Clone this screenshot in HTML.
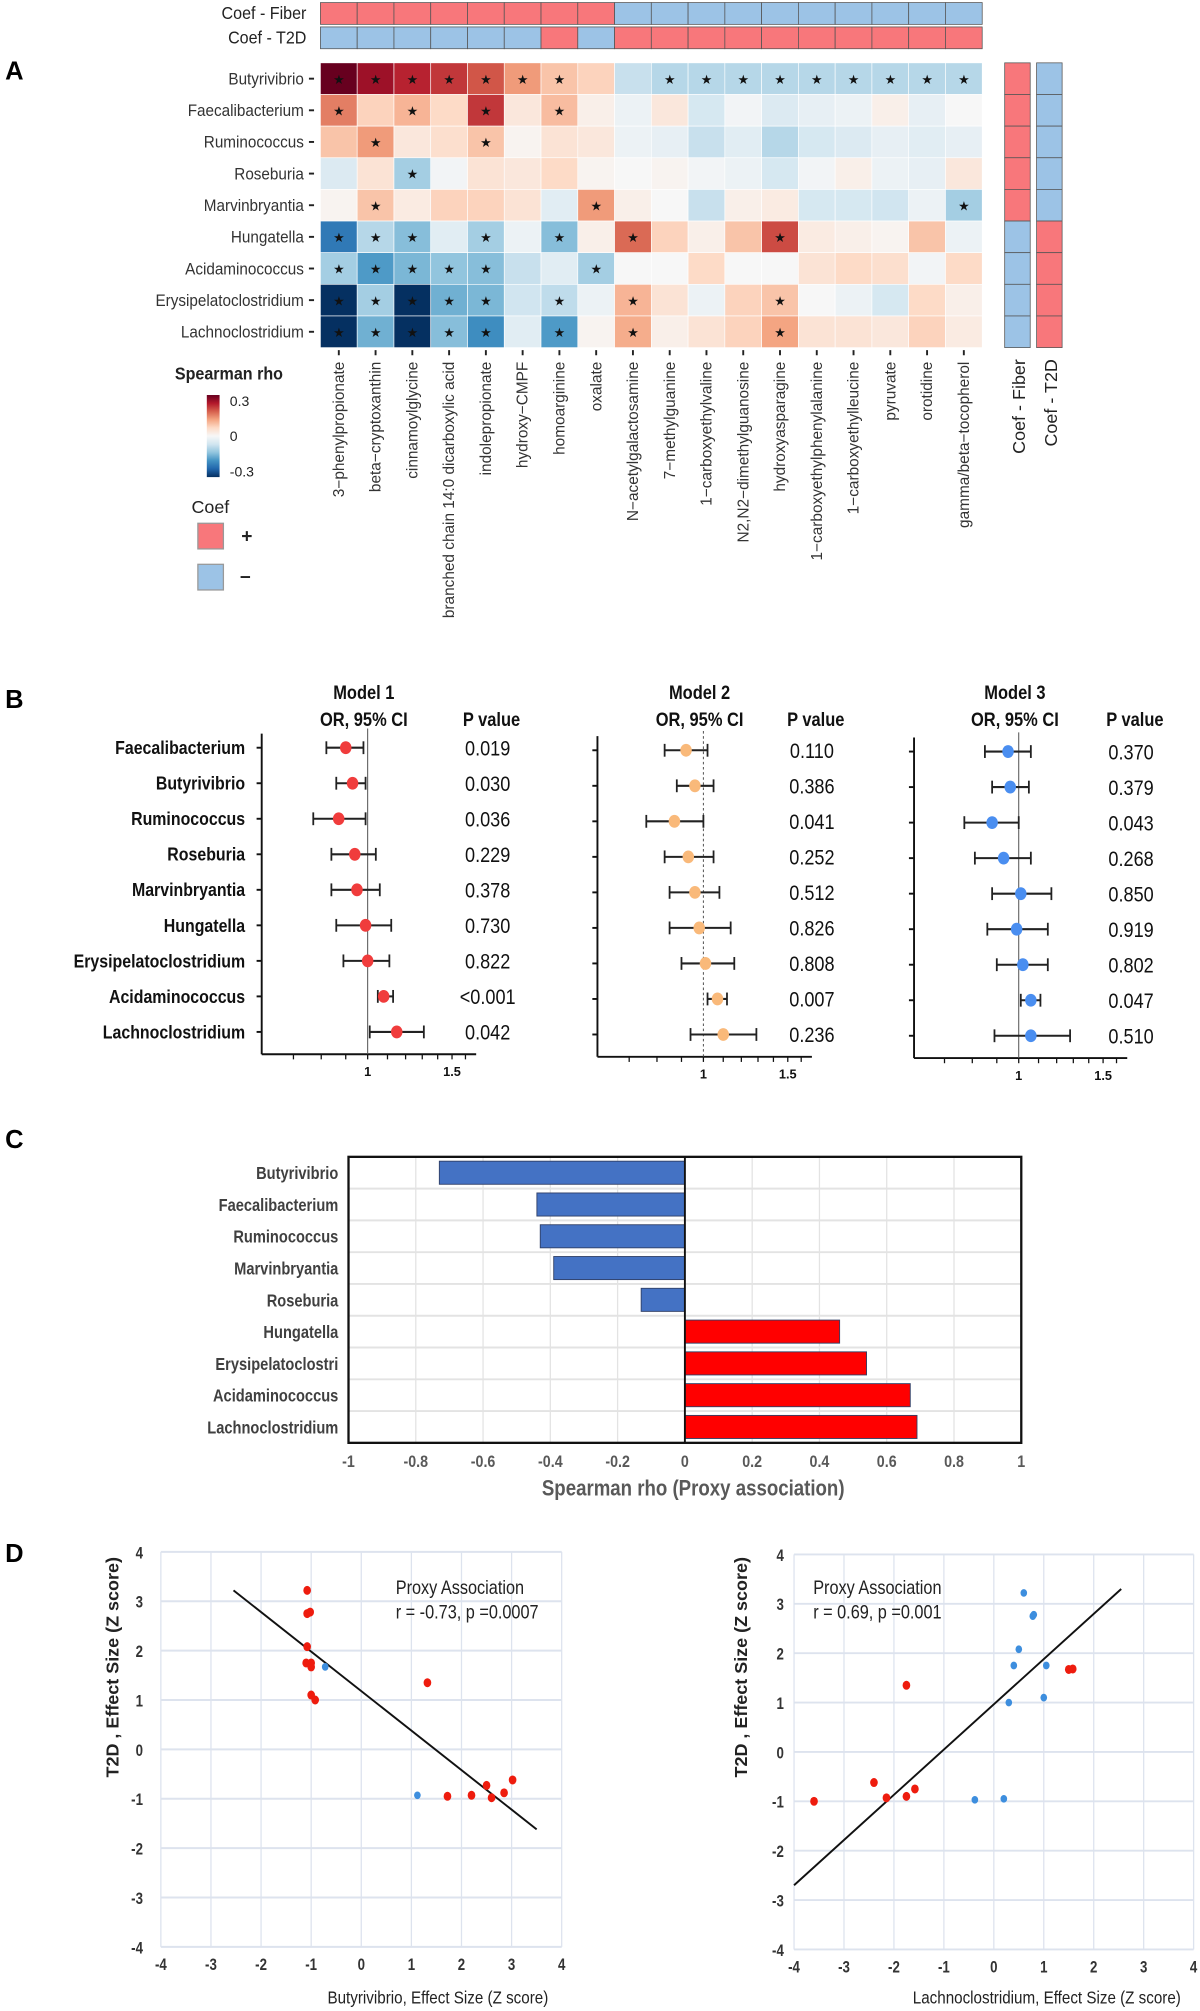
<!DOCTYPE html>
<html><head><meta charset="utf-8">
<style>
html,body{margin:0;padding:0;background:#fff;}
svg{display:block;}
text{font-family:"Liberation Sans",sans-serif;}
</style></head>
<body>
<svg id="fig" xmlns="http://www.w3.org/2000/svg" width="1200" height="2011" viewBox="0 0 940 1568" preserveAspectRatio="none"></svg>
<script>
// ===== Panel A data =====
const hmRows = ["Butyrivibrio","Faecalibacterium","Ruminococcus","Roseburia","Marvinbryantia","Hungatella","Acidaminococcus","Erysipelatoclostridium","Lachnoclostridium"];
const hmCols = ["3\u2212phenylpropionate","beta\u2212cryptoxanthin","cinnamoylglycine","branched chain 14:0 dicarboxylic acid","indolepropionate","hydroxy\u2212CMPF","homoarginine","oxalate","N\u2212acetylgalactosamine","7\u2212methylguanine","1\u2212carboxyethylvaline","N2,N2\u2212dimethylguanosine","hydroxyasparagine","1\u2212carboxyethylphenylalanine","1\u2212carboxyethylleucine","pyruvate","orotidine","gamma/beta\u2212tocopherol"];
const hmVals = [
 [0.35,0.30,0.27,0.25,0.22,0.15,0.10,0.08,-0.08,-0.10,-0.10,-0.10,-0.10,-0.10,-0.10,-0.10,-0.10,-0.10],
 [0.18,0.08,0.12,0.07,0.25,0.04,0.11,0.02,-0.02,0.04,-0.06,-0.01,-0.05,-0.03,-0.02,0.02,-0.03,0.00],
 [0.10,0.15,0.04,0.06,0.10,0.01,0.05,0.04,-0.02,-0.03,-0.08,-0.04,-0.10,-0.06,-0.05,-0.03,-0.04,-0.03],
 [-0.05,0.05,-0.12,-0.01,0.05,0.04,0.07,0.01,0.00,0.01,-0.01,-0.02,-0.06,-0.01,0.02,-0.02,-0.03,0.04],
 [0.01,0.10,0.03,0.08,0.08,0.05,-0.04,0.15,0.02,0.00,-0.08,0.02,0.03,-0.06,-0.06,-0.07,-0.02,-0.12],
 [-0.25,-0.10,-0.15,-0.04,-0.12,-0.02,-0.15,0.02,0.20,0.08,0.02,0.10,0.23,0.03,0.02,0.01,0.10,-0.02],
 [-0.12,-0.20,-0.16,-0.14,-0.15,-0.08,-0.04,-0.12,0.00,0.00,0.07,0.00,0.00,0.05,0.07,0.06,-0.01,0.07],
 [-0.35,-0.12,-0.35,-0.17,-0.16,-0.07,-0.09,-0.02,0.12,0.05,-0.02,0.08,0.10,0.00,-0.02,-0.06,0.07,0.02],
 [-0.35,-0.17,-0.35,-0.15,-0.22,-0.04,-0.20,0.01,0.13,0.02,0.05,0.08,0.14,0.05,0.05,0.04,0.08,0.03]
];
const hmStars = [
 [1,1,1,1,1,1,1,0,0,1,1,1,1,1,1,1,1,1],
 [1,0,1,0,1,0,1,0,0,0,0,0,0,0,0,0,0,0],
 [0,1,0,0,1,0,0,0,0,0,0,0,0,0,0,0,0,0],
 [0,0,1,0,0,0,0,0,0,0,0,0,0,0,0,0,0,0],
 [0,1,0,0,0,0,0,1,0,0,0,0,0,0,0,0,0,1],
 [1,1,1,0,1,0,1,0,1,0,0,0,1,0,0,0,0,0],
 [1,1,1,1,1,0,0,1,0,0,0,0,0,0,0,0,0,0],
 [1,1,1,1,1,0,1,0,1,0,0,0,1,0,0,0,0,0],
 [1,1,1,1,1,0,1,0,1,0,0,0,1,0,0,0,0,0]
];
const colCoefFiber = [1,1,1,1,1,1,1,1,-1,-1,-1,-1,-1,-1,-1,-1,-1,-1];
const colCoefT2D   = [-1,-1,-1,-1,-1,-1,1,-1,1,1,1,1,1,1,1,1,1,1];
const rowCoefFiber = [1,1,1,1,1,-1,-1,-1,-1];
const rowCoefT2D   = [-1,-1,-1,-1,-1,1,1,1,1];
const legendTicks = [0.3,0,-0.3];

// ===== Panel B data =====
const fpTaxa = ["Faecalibacterium","Butyrivibrio","Ruminococcus","Roseburia","Marvinbryantia","Hungatella","Erysipelatoclostridium","Acidaminococcus","Lachnoclostridium"];
const m1Or = [0.90,0.93,0.87,0.94,0.95,0.99,1.00,1.08,1.15];
const m1Lo = [0.82,0.86,0.77,0.84,0.84,0.86,0.89,1.05,1.01];
const m1Hi = [0.98,0.99,0.99,1.04,1.06,1.12,1.11,1.13,1.31];
const m1P  = ["0.019","0.030","0.036","0.229","0.378","0.730","0.822","<0.001","0.042"];
const m2Or = [0.92,0.96,0.87,0.93,0.96,0.98,1.01,1.07,1.10];
const m2Lo = [0.83,0.88,0.76,0.83,0.85,0.85,0.90,1.02,0.94];
const m2Hi = [1.02,1.05,1.00,1.05,1.08,1.14,1.16,1.12,1.29];
const m2P  = ["0.110","0.386","0.041","0.252","0.512","0.826","0.808","0.007","0.236"];
const m3Or = [0.95,0.96,0.88,0.93,1.01,0.99,1.02,1.06,1.06];
const m3Lo = [0.85,0.88,0.77,0.81,0.88,0.86,0.90,1.01,0.89];
const m3Hi = [1.06,1.05,1.00,1.06,1.17,1.15,1.15,1.11,1.28];
const m3P  = ["0.370","0.379","0.043","0.268","0.850","0.919","0.802","0.047","0.510"];
const fpTickLabels = [1,1.5];

// ===== Panel C data =====
const barTaxa = ["Butyrivibrio","Faecalibacterium","Ruminococcus","Marvinbryantia","Roseburia","Hungatella","Erysipelatoclostri","Acidaminococcus","Lachnoclostridium"];
const barRho = [-0.73,-0.44,-0.43,-0.39,-0.13,0.46,0.54,0.67,0.69];
const barTicks = [-1,-0.8,-0.6,-0.4,-0.2,0,0.2,0.4,0.6,0.8,1];

// ===== Panel D data =====
const dTicks = [-4,-3,-2,-1,0,1,2,3,4];
const d1RedX = [-1.08,-1.08,-1.02,-1.08,-1.10,-1.00,-1.00,-1.00,-0.92,1.32,1.72,2.20,2.50,2.60,2.85,3.02];
const d1RedY = [3.22,2.75,2.78,2.08,1.75,1.75,1.67,1.10,1.00,1.35,-0.95,-0.93,-0.73,-0.98,-0.88,-0.62];
const d1BlueX = [-0.72,1.12];
const d1BlueY = [1.67,-0.93];
const d1LineX = [-2.55,3.5];
const d1LineY = [3.22,-1.62];
const d2RedX = [-3.60,-2.40,-2.15,-1.75,-1.58,-1.75,1.50,1.58];
const d2RedY = [-1.00,-0.62,-0.93,-0.90,-0.75,1.35,1.67,1.68];
const d2BlueX = [0.60,0.80,0.78,0.50,0.40,1.05,0.30,1.00,-0.38,0.20];
const d2BlueY = [3.22,2.78,2.75,2.08,1.75,1.75,1.00,1.10,-0.97,-0.95];
const d2LineX = [-4.0,2.55];
const d2LineY = [-2.7,3.3];

// ===== helpers =====
const NS = "http://www.w3.org/2000/svg";
const svg = document.getElementById('fig');
function mk(tag, attrs, parent){
  const e = document.createElementNS(NS, tag);
  for (const k in attrs) e.setAttribute(k, attrs[k]);
  (parent || svg).appendChild(e);
  return e;
}
function tx(str, attrs, parent){ const e = mk('text', attrs, parent); e.textContent = str; return e; }
// condensed text: horizontally scaled around anchor point
function ctx(str, x, y, s, attrs, parent){
  const a = Object.assign({}, attrs, {x:0, y:0, transform:'translate(' + x + ',' + y + ') scale(' + s + ',1)'});
  return tx(str, a, parent);
}
function grp(name){
  const g = mk('g', {});
  
  
  return g;
}
const RED = '#f8777b', BLUE = '#9cc3e6';
const stops = ['#053061','#2166ac','#4393c3','#92c5de','#d1e5f0','#f7f7f7','#fddbc7','#f4a582','#d6604d','#b2182b','#67001f'];
function hex2rgb(h){ return [parseInt(h.substr(1,2),16),parseInt(h.substr(3,2),16),parseInt(h.substr(5,2),16)]; }
function rdbu(v){
  let t = (v + 0.35) / 0.7; t = Math.max(0, Math.min(1, t));
  const p = t * (stops.length - 1); const i = Math.min(Math.floor(p), stops.length - 2); const f = p - i;
  const a = hex2rgb(stops[i]), b = hex2rgb(stops[i+1]);
  return 'rgb(' + a.map((x,k)=>Math.round(x + (b[k]-x)*f)).join(',') + ')';
}

// ===== Panel A =====
(function(){
  const g = grp('panel-a');
  const lab = tx('A', {x:4, y:62, 'font-size':20, 'font-weight':'bold'}, g);
  
  
  const x0 = 251, cw = 28.8, y0 = 49, ch = 24.67;
  const xs = i => x0 + i * cw, ys = j => y0 + j * ch;
  ctx('Coef - Fiber', 240, 15, 0.9, {'font-size':14, 'text-anchor':'end', fill:'#222'}, g);
  ctx('Coef -  T2D', 240, 34, 0.9, {'font-size':14, 'text-anchor':'end', fill:'#222'}, g);
  colCoefFiber.forEach((c,i)=>{
    const r = mk('rect', {x:xs(i), y:2, width:cw, height:17, fill:c>0?RED:BLUE, stroke:'#555', 'stroke-width':0.6}, g);
    
    
  });
  colCoefT2D.forEach((c,i)=>{
    const r = mk('rect', {x:xs(i), y:21, width:cw, height:17, fill:c>0?RED:BLUE, stroke:'#555', 'stroke-width':0.6}, g);
    
    
  });
  hmVals.forEach((row,j)=>{
    row.forEach((v,i)=>{
      const r = mk('rect', {x:xs(i), y:ys(j), width:cw, height:ch, fill:rdbu(v), stroke:'#fff', 'stroke-width':0.5}, g);
      
      
      if (hmStars[j][i]) {
        const s = tx('\u2605', {x:xs(i)+cw/2, y:ys(j)+ch/2+4, 'font-size':10, 'text-anchor':'middle', fill:'#111', 'font-family':'DejaVu Sans'}, g);
        
        
      }
    });
  });
  hmRows.forEach((n,j)=>{
    const t = ctx(n, 238, ys(j)+ch/2+4.5, 0.92, {'font-size':13, 'text-anchor':'end', fill:'#333'}, g);
    
    
    mk('line', {x1:242, x2:246, y1:ys(j)+ch/2, y2:ys(j)+ch/2, stroke:'#222', 'stroke-width':1.5}, g);
  });
  hmCols.forEach((n,i)=>{
    const cx = xs(i)+cw/2;
    mk('line', {x1:cx, x2:cx, y1:273, y2:277, stroke:'#222', 'stroke-width':1.5}, g);
    const t = tx(n, {x:0, y:0, 'font-size':12, 'text-anchor':'end', fill:'#333', transform:'translate(' + (cx+4) + ',282) rotate(-90)'}, g);
    
    
  });
  rowCoefFiber.forEach((c,j)=>{
    const r = mk('rect', {x:787, y:ys(j), width:20, height:ch, fill:c>0?RED:BLUE, stroke:'#555', 'stroke-width':0.6}, g);
    
    
  });
  rowCoefT2D.forEach((c,j)=>{
    const r = mk('rect', {x:812, y:ys(j), width:20, height:ch, fill:c>0?RED:BLUE, stroke:'#555', 'stroke-width':0.6}, g);
    
    
  });
  tx('Coef  -  Fiber', {x:0, y:0, 'font-size':14, 'text-anchor':'end', fill:'#222', transform:'translate(803,280) rotate(-90)'}, g);
  tx('Coef  -  T2D', {x:0, y:0, 'font-size':14, 'text-anchor':'end', fill:'#222', transform:'translate(828,280) rotate(-90)'}, g);
  const lg = grp('heatmap-legend');
  ctx('Spearman rho', 137, 296, 0.9, {'font-size':14, 'font-weight':'bold', fill:'#222'}, lg);
  const defs = mk('defs', {}, lg);
  const grad = mk('linearGradient', {id:'rdbu', x1:0, y1:1, x2:0, y2:0}, defs);
  stops.forEach((c,i)=>mk('stop', {offset:(i/(stops.length-1)), 'stop-color':c}, grad));
  const cb = mk('rect', {x:162, y:308, width:10, height:64, fill:'url(#rdbu)'}, lg);
  
  
  legendTicks.forEach(v=>{
    const y = 340 - v / 0.35 * 32;
    tx(String(v), {x:180, y:y+4, 'font-size':11, fill:'#222'}, lg);
  });
  tx('Coef', {x:150, y:400, 'font-size':14, fill:'#222'}, lg);
  mk('rect', {x:155, y:408, width:20, height:20, fill:RED, stroke:'#999'}, lg);
  tx('+', {x:189, y:423, 'font-size':15, 'font-weight':'bold', fill:'#222'}, lg);
  mk('rect', {x:155, y:440, width:20, height:20, fill:BLUE, stroke:'#999'}, lg);
  tx('\u2013', {x:188, y:454, 'font-size':15, 'font-weight':'bold', fill:'#222'}, lg);
})();

// ===== Panel B =====
(function(){
  const g = grp('panel-b');
  tx('B', {x:4, y:552, 'font-size':20, 'font-weight':'bold'}, g);
  const rowY = j => 583 + j * 27.7;
  fpTaxa.forEach((n,j)=>{
    const t = ctx(n, 192, rowY(j)+5, 0.86, {'font-size':14.5, 'font-weight':'bold', 'text-anchor':'end', fill:'#111'}, g);
    
    
  });
  const panels = [
    {name:'model-1', title:'Model 1', ax:205, ref:288, pX:382, dy:0, col:'#f03c3c', or:m1Or, lo:m1Lo, hi:m1Hi, p:m1P, dash:false},
    {name:'model-2', title:'Model 2', ax:468, ref:551, pX:636, dy:2, col:'#f9b97a', or:m2Or, lo:m2Lo, hi:m2Hi, p:m2P, dash:true},
    {name:'model-3', title:'Model 3', ax:716, ref:798, pX:886, dy:3, col:'#4a8ef0', or:m3Or, lo:m3Lo, hi:m3Hi, p:m3P, dash:false}
  ];
  const k = 163;
  panels.forEach(P=>{
    const pg = grp('forest-' + P.name);
    const sx = v => P.ref + Math.log(v) * k;
    ctx(P.title, P.ref-3, 545, 0.86, {'font-size':15, 'font-weight':'bold', 'text-anchor':'middle', fill:'#111'}, pg);
    ctx('OR, 95% CI', P.ref-3, 566, 0.86, {'font-size':15, 'font-weight':'bold', 'text-anchor':'middle', fill:'#111'}, pg);
    ctx('P value', P.pX+3, 566, 0.86, {'font-size':15, 'font-weight':'bold', 'text-anchor':'middle', fill:'#111'}, pg);
    const yb = 822 + P.dy;
    mk('line', {x1:P.ax, x2:P.ax, y1:572+P.dy, y2:yb, stroke:'#111', 'stroke-width':1.5}, pg);
    mk('line', {x1:P.ax, x2:P.ref+85, y1:yb, y2:yb, stroke:'#111', 'stroke-width':1.5}, pg);
    const rl = mk('line', {x1:P.ref, x2:P.ref, y1:568+P.dy, y2:yb, stroke:'#555', 'stroke-width':0.8}, pg);
    if (P.dash) rl.setAttribute('stroke-dasharray', '2,2');
    
    
    [0.6,0.7,0.8,0.9,1,1.1,1.2,1.3,1.4,1.5,1.6].forEach(v=>{
      const x = sx(v); if (x < P.ax || x > P.ref+85) return;
      mk('line', {x1:x, x2:x, y1:yb, y2:yb+4, stroke:'#111', 'stroke-width':1}, pg);
    });
    fpTickLabels.forEach(v=>{
      tx(String(v), {x:sx(v), y:yb+17, 'font-size':10, 'font-weight':'bold', 'text-anchor':'middle', fill:'#111'}, pg);
    });
    P.or.forEach((v,j)=>{
      const y = rowY(j) + P.dy;
      mk('line', {x1:P.ax-4, x2:P.ax, y1:y, y2:y, stroke:'#111', 'stroke-width':1.5}, pg);
      const ci = mk('line', {x1:sx(P.lo[j]), x2:sx(P.hi[j]), y1:y, y2:y, stroke:'#222', 'stroke-width':1.6}, pg);
      
      
      mk('line', {x1:sx(P.lo[j]), x2:sx(P.lo[j]), y1:y-5, y2:y+5, stroke:'#222', 'stroke-width':1.4}, pg);
      mk('line', {x1:sx(P.hi[j]), x2:sx(P.hi[j]), y1:y-5, y2:y+5, stroke:'#222', 'stroke-width':1.4}, pg);
      const d = mk('ellipse', {cx:sx(v), cy:y, rx:4.5, ry:5, fill:P.col}, pg);
      
      
      const pt = ctx(P.p[j], P.pX, y+6, 0.86, {'font-size':16.5, 'text-anchor':'middle', fill:'#111'}, pg);
      
      
    });
  });
})();

// ===== Panel C =====
(function(){
  const g = grp('panel-c');
  tx('C', {x:4, y:895, 'font-size':20, 'font-weight':'bold'}, g);
  const L = 273, R = 800, T = 902, B = 1125;
  const sx = v => L + (v + 1) / 2 * (R - L);
  const rh = (B - T) / barTaxa.length;
  barTicks.forEach(v=>{
    mk('line', {x1:sx(v), x2:sx(v), y1:T, y2:B, stroke:'#e3e3e3', 'stroke-width':1}, g);
    const t = ctx(String(v), sx(v), 1144, 0.86, {'font-size':13, 'font-weight':'bold', 'text-anchor':'middle', fill:'#595959'}, g);
    
    
  });
  for (let j=1; j<barTaxa.length; j++) mk('line', {x1:L, x2:R, y1:T+j*rh, y2:T+j*rh, stroke:'#e3e3e3', 'stroke-width':1.5}, g);
  barRho.forEach((v,j)=>{
    const yc = T + (j+0.5)*rh;
    const x1 = Math.min(sx(0), sx(v)), w = Math.abs(sx(v) - sx(0));
    const b = mk('rect', {x:x1, y:yc-9, width:w, height:18, fill:v<0?'#4472c4':'#ff0000', stroke:'#2f3f66', 'stroke-width':0.7}, g);
    
    
    const t = ctx(barTaxa[j], 265, yc+5, 0.82, {'font-size':14, 'font-weight':'bold', 'text-anchor':'end', fill:'#404040'}, g);
    
    
  });
  mk('rect', {x:L, y:T, width:R-L, height:B-T, fill:'none', stroke:'#111', 'stroke-width':1.8}, g);
  mk('line', {x1:sx(0), x2:sx(0), y1:T, y2:B, stroke:'#111', 'stroke-width':1.5}, g);
  const xt = ctx('Spearman rho (Proxy association)', 543, 1166, 0.86, {'font-size':17, 'font-weight':'bold', 'text-anchor':'middle', fill:'#595959'}, g);
  
  
})();

// ===== Panel D =====
(function(){
  const g = grp('panel-d');
  tx('D', {x:4, y:1218, 'font-size':20, 'font-weight':'bold'}, g);
  const plots = [
    {name:'butyrivibrio', L:126, R:440, yT:1210, yB:1518, labX:112, ytX:88, xTitle:'Butyrivibrio,  Effect Size (Z score)', xTitleX:343,
     rx:d1RedX, ry:d1RedY, bx:d1BlueX, by:d1BlueY, lx:d1LineX, ly:d1LineY, annX:310, r:'r = -0.73, p =0.0007'},
    {name:'lachnoclostridium', L:622, R:935, yT:1212, yB:1520, labX:614, ytX:580, xTitle:'Lachnoclostridium,  Effect Size (Z score)', xTitleX:820,
     rx:d2RedX, ry:d2RedY, bx:d2BlueX, by:d2BlueY, lx:d2LineX, ly:d2LineY, annX:637, r:'r = 0.69, p =0.001'}
  ];
  plots.forEach(P=>{
    const pg = grp('scatter-' + P.name);
    const sx = v => P.L + (v + 4) / 8 * (P.R - P.L);
    const sy = v => P.yB - (v + 4) / 8 * (P.yB - P.yT);
    dTicks.forEach(v=>{
      mk('line', {x1:sx(v), x2:sx(v), y1:P.yT, y2:P.yB, stroke:'#dde3ee', 'stroke-width':1}, pg);
      mk('line', {x1:P.L, x2:P.R, y1:sy(v), y2:sy(v), stroke:'#dde3ee', 'stroke-width':1.5}, pg);
      ctx(String(v), sx(v), P.yB+18, 0.8, {'font-size':13, 'font-weight':'bold', 'text-anchor':'middle', fill:'#333'}, pg);
      ctx(String(v), P.labX, sy(v)+5, 0.8, {'font-size':13, 'font-weight':'bold', 'text-anchor':'end', fill:'#333'}, pg);
    });
    const ln = mk('line', {x1:sx(P.lx[0]), y1:sy(P.ly[0]), x2:sx(P.lx[1]), y2:sy(P.ly[1]), stroke:'#111', 'stroke-width':1.5}, pg);
    
    
    P.rx.forEach((v,i)=>{
      const c = mk('ellipse', {cx:sx(v), cy:sy(P.ry[i]), rx:3, ry:3.5, fill:'#ee1c0e'}, pg);
      
      
    });
    P.bx.forEach((v,i)=>{
      const c = mk('ellipse', {cx:sx(v), cy:sy(P.by[i]), rx:2.6, ry:3, fill:'#3d8ede'}, pg);
      
      
    });
    ctx('Proxy Association', P.annX, 1243, 0.85, {'font-size':15, fill:'#222'}, pg);
    ctx(P.r, P.annX, 1262, 0.85, {'font-size':15, fill:'#222'}, pg);
    const xt = ctx(P.xTitle, P.xTitleX, 1562, 0.85, {'font-size':14, 'text-anchor':'middle', fill:'#222'}, pg);
    
    
    const yt = tx('T2D , Effect Size (Z score)', {x:0, y:0, 'font-size':14, 'font-weight':'bold', 'text-anchor':'middle', fill:'#222', transform:'translate(' + (P.ytX+5) + ',1300) rotate(-90)'}, pg);
    
    
  });
})();
</script>
</body></html>
